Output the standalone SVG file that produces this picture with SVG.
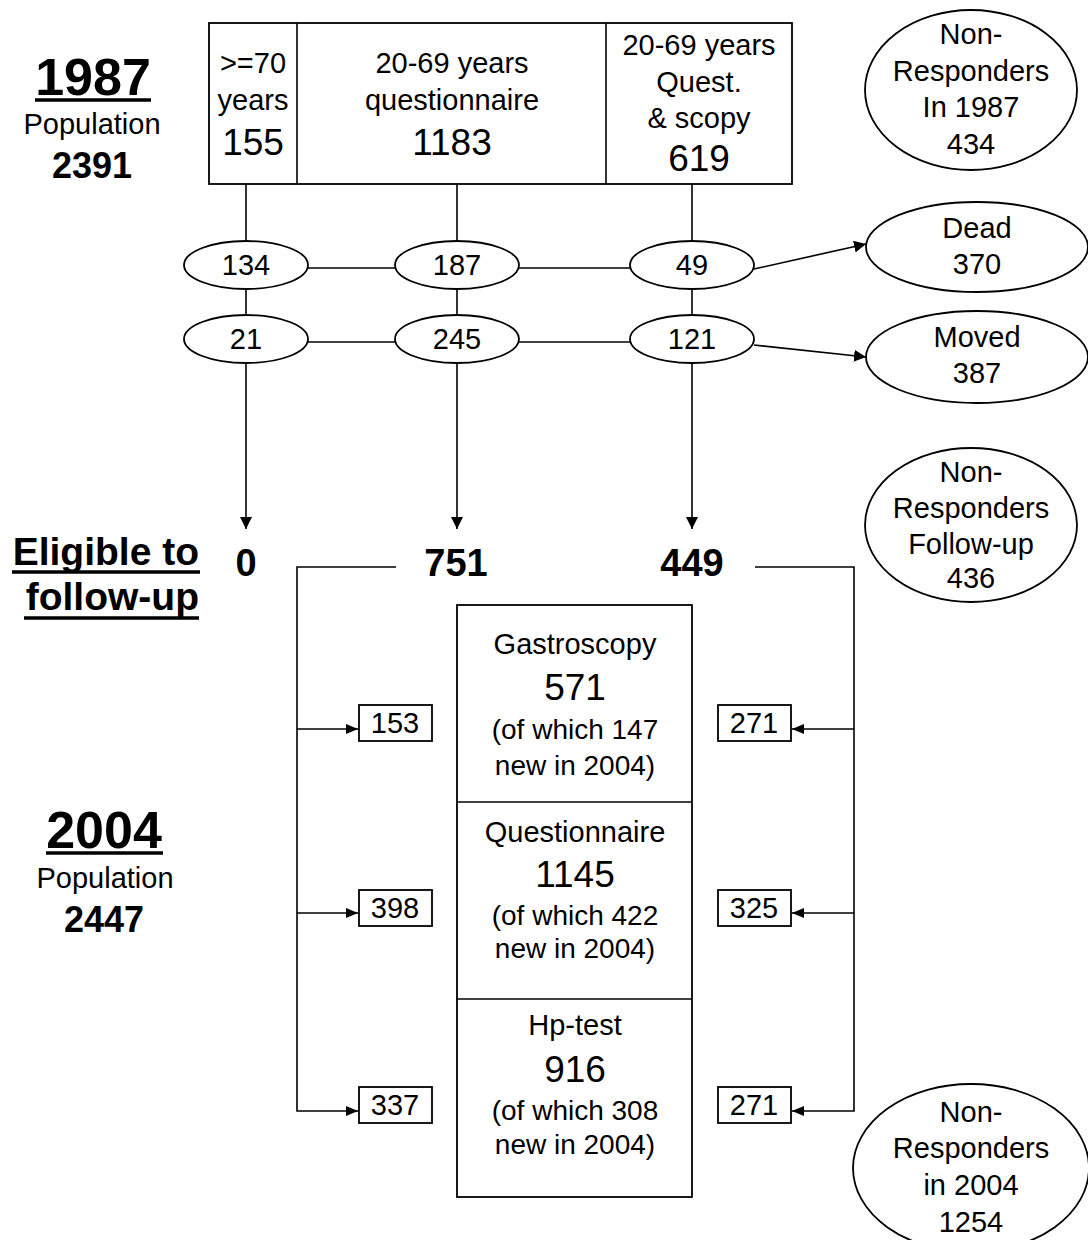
<svg xmlns="http://www.w3.org/2000/svg" width="1088" height="1240" viewBox="0 0 1088 1240">
<style>
text{font-family:"Liberation Sans",Arial,sans-serif;fill:#000;text-anchor:middle}
.t{font-size:29px}
.n{font-size:37px}
.e{font-size:29px}
.s{font-size:29px}
.w{font-size:28px}
.b{font-weight:bold}
.big{font-size:52px;font-weight:bold}
.shape{fill:#fff;stroke:#000;stroke-width:1.8}
.ln{fill:none;stroke:#000;stroke-width:1.6}
.ul{stroke:#000;stroke-width:3.5}
.r{text-anchor:end}
</style>
<defs>
<marker id="ah" markerUnits="userSpaceOnUse" markerWidth="13" markerHeight="12" refX="12" refY="6" orient="auto">
<path d="M0,0 L12,6 L0,12 Z" fill="#000"/>
</marker>
<marker id="ahs" markerUnits="userSpaceOnUse" markerWidth="13" markerHeight="11" refX="12" refY="5" orient="auto">
<path d="M0,0 L12,5 L0,10 Z" fill="#000"/>
</marker>
</defs>
<rect width="1088" height="1240" fill="#fff"/>

<g id="label-1987">
<text x="93" y="95" class="big">1987</text>
<line x1="35" y1="100" x2="151" y2="100" class="ul"/>
<text x="92" y="134" class="t">Population</text>
<text x="92" y="178" class="b" font-size="36">2391</text>
</g>

<g id="connectors">
<line x1="246" y1="184" x2="246" y2="241" class="ln"/>
<line x1="457" y1="184" x2="457" y2="241" class="ln"/>
<line x1="692" y1="184" x2="692" y2="241" class="ln"/>
<line x1="308" y1="268" x2="395" y2="268" class="ln"/>
<line x1="519" y1="268" x2="630" y2="268" class="ln"/>
<line x1="246" y1="289" x2="246" y2="315" class="ln"/>
<line x1="457" y1="289" x2="457" y2="315" class="ln"/>
<line x1="692" y1="289" x2="692" y2="315" class="ln"/>
<line x1="308" y1="342" x2="395" y2="342" class="ln"/>
<line x1="519" y1="342" x2="630" y2="342" class="ln"/>
<line x1="246" y1="363" x2="246" y2="529" class="ln" marker-end="url(#ah)"/>
<line x1="457" y1="363" x2="457" y2="529" class="ln" marker-end="url(#ah)"/>
<line x1="692" y1="363" x2="692" y2="529" class="ln" marker-end="url(#ah)"/>
<line x1="754" y1="269" x2="866" y2="244" class="ln" marker-end="url(#ah)"/>
<line x1="754" y1="345" x2="866" y2="357" class="ln" marker-end="url(#ah)"/>
<polyline points="396,567 297,567 297,1111 358,1111" class="ln" marker-end="url(#ahs)"/>
<line x1="297" y1="729" x2="358" y2="729" class="ln" marker-end="url(#ahs)"/>
<line x1="297" y1="913" x2="358" y2="913" class="ln" marker-end="url(#ahs)"/>
<polyline points="755,567 854,567 854,1111 792,1111" class="ln" marker-end="url(#ahs)"/>
<line x1="854" y1="729" x2="792" y2="729" class="ln" marker-end="url(#ahs)"/>
<line x1="854" y1="913" x2="792" y2="913" class="ln" marker-end="url(#ahs)"/>
</g>

<g id="box-1987">
<rect x="209" y="23" width="583" height="161" class="shape"/>
<line x1="297" y1="23" x2="297" y2="184" class="ln"/>
<line x1="606" y1="23" x2="606" y2="184" class="ln"/>
<text x="253" y="73" class="t">&gt;=70</text>
<text x="253" y="110" class="t">years</text>
<text x="253" y="155" class="n">155</text>
<text x="452" y="73" class="t">20-69 years</text>
<text x="452" y="110" class="t">questionnaire</text>
<text x="452" y="155" class="n">1183</text>
<text x="699" y="55" class="t">20-69 years</text>
<text x="699" y="92" class="t">Quest.</text>
<text x="699" y="128" class="t">&amp; scopy</text>
<text x="699" y="171" class="n">619</text>
</g>

<g id="nonresp-1987">
<ellipse cx="971" cy="90" rx="106" ry="80" class="shape"/>
<text x="971" y="44" class="s">Non-</text>
<text x="971" y="81" class="s">Responders</text>
<text x="971" y="117" class="s">In 1987</text>
<text x="971" y="154" class="s">434</text>
</g>

<g id="e134"><ellipse cx="246" cy="265" rx="62" ry="24" class="shape"/><text x="246" y="275" class="e">134</text></g>
<g id="e187"><ellipse cx="457" cy="265" rx="62" ry="24" class="shape"/><text x="457" y="275" class="e">187</text></g>
<g id="e49"><ellipse cx="692" cy="265" rx="62" ry="24" class="shape"/><text x="692" y="275" class="e">49</text></g>
<g id="e21"><ellipse cx="246" cy="339" rx="62" ry="24" class="shape"/><text x="246" y="349" class="e">21</text></g>
<g id="e245"><ellipse cx="457" cy="339" rx="62" ry="24" class="shape"/><text x="457" y="349" class="e">245</text></g>
<g id="e121"><ellipse cx="692" cy="339" rx="62" ry="24" class="shape"/><text x="692" y="349" class="e">121</text></g>

<g id="dead">
<ellipse cx="977" cy="247" rx="111" ry="45" class="shape"/>
<text x="977" y="238" class="s">Dead</text>
<text x="977" y="274" class="s">370</text>
</g>
<g id="moved">
<ellipse cx="977" cy="357" rx="111" ry="46" class="shape"/>
<text x="977" y="347" class="s">Moved</text>
<text x="977" y="383" class="s">387</text>
</g>

<g id="label-eligible">
<text x="199" y="565" class="b r" font-size="39">Eligible to</text>
<line x1="12" y1="572" x2="200" y2="572" class="ul"/>
<text x="199" y="610" class="b r" font-size="39">follow-up</text>
<line x1="24" y1="618" x2="199" y2="618" class="ul"/>
</g>
<g id="elig-0"><text x="246" y="576" class="b" font-size="38">0</text></g>
<g id="elig-751"><text x="456" y="576" class="b" font-size="38">751</text></g>
<g id="elig-449"><text x="692" y="576" class="b" font-size="38">449</text></g>

<g id="nonresp-followup">
<ellipse cx="971" cy="525" rx="106" ry="77" class="shape"/>
<text x="971" y="482" class="s">Non-</text>
<text x="971" y="518" class="s">Responders</text>
<text x="971" y="554" class="s">Follow-up</text>
<text x="971" y="588" class="s">436</text>
</g>

<g id="label-2004">
<text x="104" y="848" class="big">2004</text>
<line x1="46" y1="853" x2="163" y2="853" class="ul"/>
<text x="105" y="888" class="t">Population</text>
<text x="104" y="932" class="b" font-size="36">2447</text>
</g>

<g id="box-2004">
<rect x="457" y="605" width="235" height="592" class="shape"/>
<line x1="457" y1="802" x2="692" y2="802" class="ln"/>
<line x1="457" y1="999" x2="692" y2="999" class="ln"/>
<text x="575" y="654" class="t" font-size="30">Gastroscopy</text>
<text x="575" y="700" class="n">571</text>
<text x="575" y="739" class="w">(of which 147</text>
<text x="575" y="775" class="w">new in 2004)</text>
<text x="575" y="842" class="t" font-size="30">Questionnaire</text>
<text x="575" y="887" class="n">1145</text>
<text x="575" y="925" class="w">(of which 422</text>
<text x="575" y="958" class="w">new in 2004)</text>
<text x="575" y="1035" class="t" font-size="30">Hp-test</text>
<text x="575" y="1082" class="n">916</text>
<text x="575" y="1120" class="w">(of which 308</text>
<text x="575" y="1154" class="w">new in 2004)</text>
</g>

<g id="b153"><rect x="359" y="705" width="73" height="36" class="shape"/><text x="395" y="733" class="s">153</text></g>
<g id="b398"><rect x="359" y="890" width="73" height="36" class="shape"/><text x="395" y="918" class="s">398</text></g>
<g id="b337"><rect x="359" y="1087" width="73" height="36" class="shape"/><text x="395" y="1115" class="s">337</text></g>
<g id="b271a"><rect x="718" y="705" width="73" height="36" class="shape"/><text x="754" y="733" class="s">271</text></g>
<g id="b325"><rect x="718" y="890" width="73" height="36" class="shape"/><text x="754" y="918" class="s">325</text></g>
<g id="b271b"><rect x="718" y="1087" width="73" height="36" class="shape"/><text x="754" y="1115" class="s">271</text></g>

<g id="nonresp-2004">
<ellipse cx="971" cy="1168" rx="118" ry="84" class="shape"/>
<text x="971" y="1122" class="s">Non-</text>
<text x="971" y="1158" class="s">Responders</text>
<text x="971" y="1195" class="s">in 2004</text>
<text x="971" y="1232" class="s">1254</text>
</g>
</svg>
